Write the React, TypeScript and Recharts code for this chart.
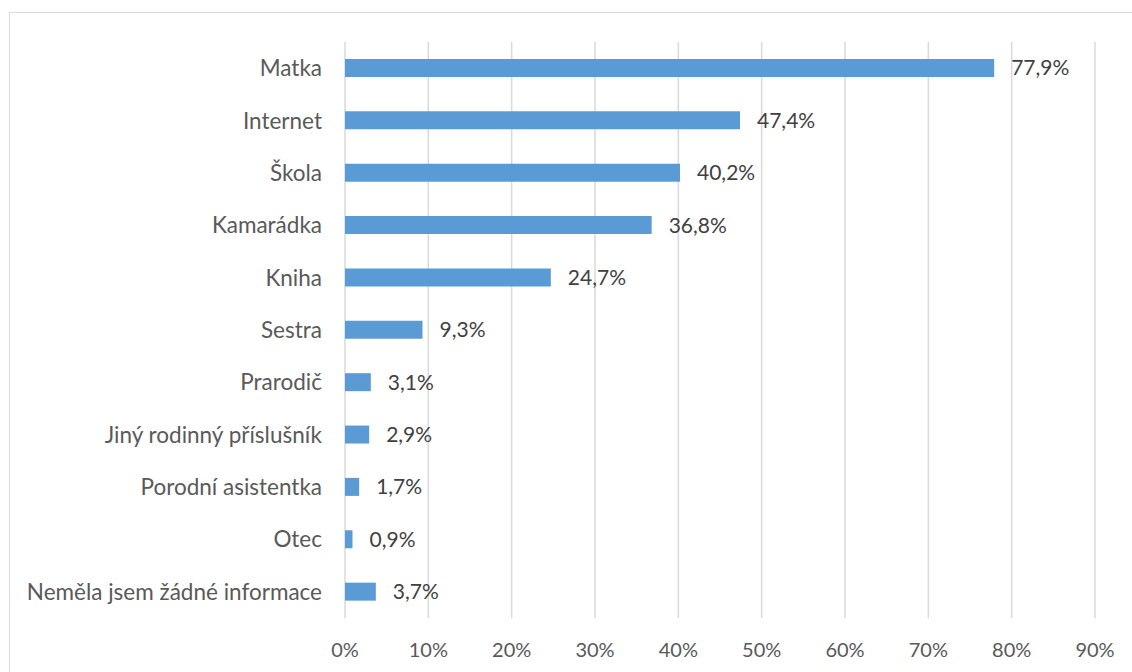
import React from 'react';
import { BarChart, Bar, XAxis, YAxis, CartesianGrid, LabelList } from 'recharts';

const categories = [
  'Matka',
  'Internet',
  'Škola',
  'Kamarádka',
  'Kniha',
  'Sestra',
  'Prarodič',
  'Jiný rodinný příslušník',
  'Porodní asistentka',
  'Otec',
  'Neměla jsem žádné informace',
];
const shares = [77.9, 47.4, 40.2, 36.8, 24.7, 9.3, 3.1, 2.9, 1.7, 0.9, 3.7];
const xTicks = [0, 10, 20, 30, 40, 50, 60, 70, 80, 90];

const FONT = 'Lato, "Open Sans", sans-serif';

const data = categories.map((name, i) => ({ name, value: shares[i] }));

const pct = (v: number) => `${v.toFixed(1).replace('.', ',')}%`;

export default function App() {
  return (
    <div style={{ position: 'absolute', left: 0, top: 0, width: 1132, height: 672, overflow: 'hidden', background: '#fff' }}>
      <div
        style={{
          position: 'absolute',
          left: 9,
          top: 12,
          width: 1160,
          height: 700,
          border: '1px solid #d9d9d9',
        }}
      />
      <div style={{ position: 'absolute', left: 0, top: 0 }}>
        <BarChart
          width={1132}
          height={672}
          data={data}
          layout="vertical"
          margin={{ top: 42, right: 37, bottom: 24, left: 0 }}
        >
          <CartesianGrid horizontal={false} stroke="#d9d9d9" strokeWidth={1.5} />
          <XAxis
            type="number"
            domain={[0, 90]}
            ticks={xTicks}
            tickFormatter={(v: number) => `${v}%`}
            axisLine={false}
            tickLine={false}
            tickMargin={19}
            height={30}
            interval={0}
            tick={{ fill: '#595959', fontSize: 20, fontFamily: FONT }}
          />
          <YAxis
            type="category"
            dataKey="name"
            width={345}
            axisLine={false}
            tickLine={false}
            tickMargin={17}
            interval={0}
            tick={{ fill: '#595959', fontSize: 22.5, fontFamily: FONT }}
          />
          <Bar dataKey="value" fill="#5b9bd5" barSize={18} isAnimationActive={false}>
            <LabelList
              dataKey="value"
              position="right"
              offset={17}
              formatter={(v: any) => pct(Number(v))}
              style={{ fill: '#404040', fontSize: 21, fontFamily: FONT }}
            />
          </Bar>
        </BarChart>
      </div>
    </div>
  );
}
